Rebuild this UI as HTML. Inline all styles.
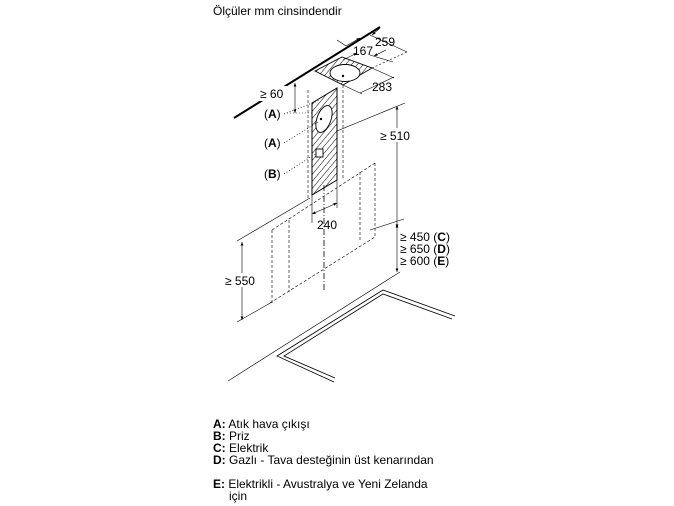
<!DOCTYPE html>
<html><head><meta charset="utf-8"><style>
html,body{margin:0;padding:0;background:#fff;}
svg{display:block;font-family:"Liberation Sans",sans-serif;}
</style></head><body>
<svg width="674" height="506" viewBox="0 0 674 506" xmlns="http://www.w3.org/2000/svg">
<defs>
<pattern id="h" width="4.5" height="4.5" patternUnits="userSpaceOnUse" patternTransform="rotate(40)">
<line x1="0" y1="0" x2="0" y2="4.5" stroke="#000" stroke-width="1"/>
</pattern>
<marker id="a" viewBox="0 0 10 10" refX="10" refY="5" markerWidth="6" markerHeight="6" orient="auto-start-reverse"><path d="M0,1 L10,5 L0,9 z" fill="#000"/></marker>
</defs>
<text x="213" y="15" font-size="12">Ölçüler mm cinsindendir</text>

<!-- ceiling -->
<line x1="234" y1="118" x2="380" y2="27" stroke="#000" stroke-width="2"/>

<!-- top plate -->
<polygon points="315,71 342,57 372,68 343,85" fill="url(#h)" stroke="#000" stroke-width="0.9"/>
<ellipse cx="345" cy="73" rx="15" ry="8.5" fill="#fff" stroke="#000" stroke-width="0.9"/>
<circle cx="343" cy="76" r="1.2" fill="#000"/>
<g stroke="#000" stroke-width="0.6" fill="none">
<line x1="337" y1="40" x2="346" y2="46"/>
<line x1="346" y1="46" x2="360" y2="38" marker-end="url(#a)"/>
<line x1="370" y1="35" x2="407" y2="52"/>
<line x1="380" y1="28" x2="372" y2="35" marker-end="url(#a)"/>
<line x1="372" y1="68" x2="407" y2="52" stroke-dasharray="2,2"/>
<line x1="343" y1="60" x2="357" y2="53" marker-end="url(#a)"/>
<line x1="370" y1="55" x2="393" y2="62"/>
<line x1="386" y1="50" x2="374" y2="56" marker-end="url(#a)"/>
<line x1="343" y1="85" x2="362" y2="94"/>
<line x1="372" y1="68" x2="394" y2="78"/>
<line x1="360" y1="93" x2="394" y2="77"/>
</g>
<text x="375" y="46" font-size="12">259</text>
<text x="353" y="55" font-size="12">167</text>
<text x="372" y="91" font-size="12">283</text>

<!-- column -->
<polygon points="312,103 337,88 337,180 312,195" fill="url(#h)" stroke="#000" stroke-width="1"/>
<ellipse cx="324" cy="119" rx="7" ry="14" transform="rotate(20 324 119)" fill="#fff" stroke="#000" stroke-width="0.9"/>
<circle cx="321" cy="119" r="1.2" fill="#000"/>
<rect x="316" y="149" width="7" height="8" fill="#fff" stroke="#000" stroke-width="0.9"/>

<g stroke="#000" stroke-width="0.6" fill="none" stroke-dasharray="3,2">
<line x1="308" y1="90" x2="308" y2="200"/>
<line x1="343" y1="85" x2="343" y2="180"/>
<line x1="272" y1="230" x2="375" y2="163"/>
<line x1="272" y1="230" x2="272" y2="303"/>
<line x1="289" y1="220" x2="289" y2="292"/>
<line x1="360" y1="172" x2="360" y2="240"/>
<line x1="375" y1="163" x2="375" y2="237"/>
<line x1="270" y1="303" x2="375" y2="237"/>
</g>
<line x1="324" y1="185" x2="324" y2="292" stroke="#000" stroke-width="0.8" stroke-dasharray="6,2,1,2"/>

<g stroke="#000" stroke-width="0.7" stroke-dasharray="1,2" fill="none">
<line x1="284" y1="114" x2="320" y2="100"/>
<line x1="284" y1="143" x2="318" y2="122"/>
<line x1="284" y1="174" x2="317" y2="153"/>
</g>
<text x="264" y="118" font-size="12">(<tspan font-weight="bold">A</tspan>)</text>
<text x="264" y="147" font-size="12">(<tspan font-weight="bold">A</tspan>)</text>
<text x="264" y="178" font-size="12">(<tspan font-weight="bold">B</tspan>)</text>

<g stroke="#000" stroke-width="0.6" fill="none">
<line x1="295" y1="83" x2="295" y2="113" marker-start="url(#a)" marker-end="url(#a)"/>
<line x1="287" y1="113" x2="312" y2="113" stroke-dasharray="1,2"/>
</g>
<rect x="259" y="86" width="30" height="15" fill="#fff"/>
<text x="260" y="98" font-size="12">≥ 60</text>

<g stroke="#000" stroke-width="0.6" fill="none">
<line x1="312" y1="195" x2="312" y2="223"/><line x1="337" y1="180" x2="337" y2="208"/>
<line x1="312" y1="214" x2="337" y2="203" marker-start="url(#a)" marker-end="url(#a)"/>
</g>
<text x="317" y="229" font-size="12">240</text>

<g stroke="#000" stroke-width="0.6" fill="none">
<line x1="337" y1="131" x2="405" y2="103"/>
<line x1="237" y1="241" x2="310" y2="198"/>
<line x1="370" y1="230" x2="404" y2="219"/>
<line x1="237" y1="322" x2="272" y2="302"/>
<line x1="228" y1="381" x2="400" y2="272"/>
<line x1="397" y1="106" x2="397" y2="228" marker-start="url(#a)" marker-end="url(#a)"/>
<line x1="397" y1="224" x2="397" y2="272" marker-start="url(#a)" marker-end="url(#a)"/>
<line x1="242" y1="242" x2="242" y2="320" marker-start="url(#a)" marker-end="url(#a)"/>
</g>
<rect x="379" y="128" width="34" height="14" fill="#fff"/>
<text x="380" y="140" font-size="12">≥ 510</text>
<text x="400" y="241" font-size="12">≥ 450 (<tspan font-weight="bold">C</tspan>)</text>
<text x="400" y="253" font-size="12">≥ 650 (<tspan font-weight="bold">D</tspan>)</text>
<text x="400" y="265" font-size="12">≥ 600 (<tspan font-weight="bold">E</tspan>)</text>
<rect x="224" y="273" width="34" height="14" fill="#fff"/>
<text x="225" y="285" font-size="12">≥ 550</text>

<g stroke="#000" stroke-width="0.8" fill="none">
<polyline points="334,382 277,356 383,290 455,316"/>
<polyline points="335,378 284,356 383,294 452,319"/>
</g>

<g font-size="12">
<text x="213" y="428"><tspan font-weight="bold">A:</tspan> Atık hava çıkışı</text>
<text x="213" y="440"><tspan font-weight="bold">B:</tspan> Priz</text>
<text x="213" y="452"><tspan font-weight="bold">C:</tspan> Elektrik</text>
<text x="213" y="464"><tspan font-weight="bold">D:</tspan> Gazlı - Tava desteğinin üst kenarından</text>
<text x="213" y="488"><tspan font-weight="bold">E:</tspan> Elektrikli - Avustralya ve Yeni Zelanda</text>
<text x="229" y="500">için</text>
</g>
</svg>
</body></html>
